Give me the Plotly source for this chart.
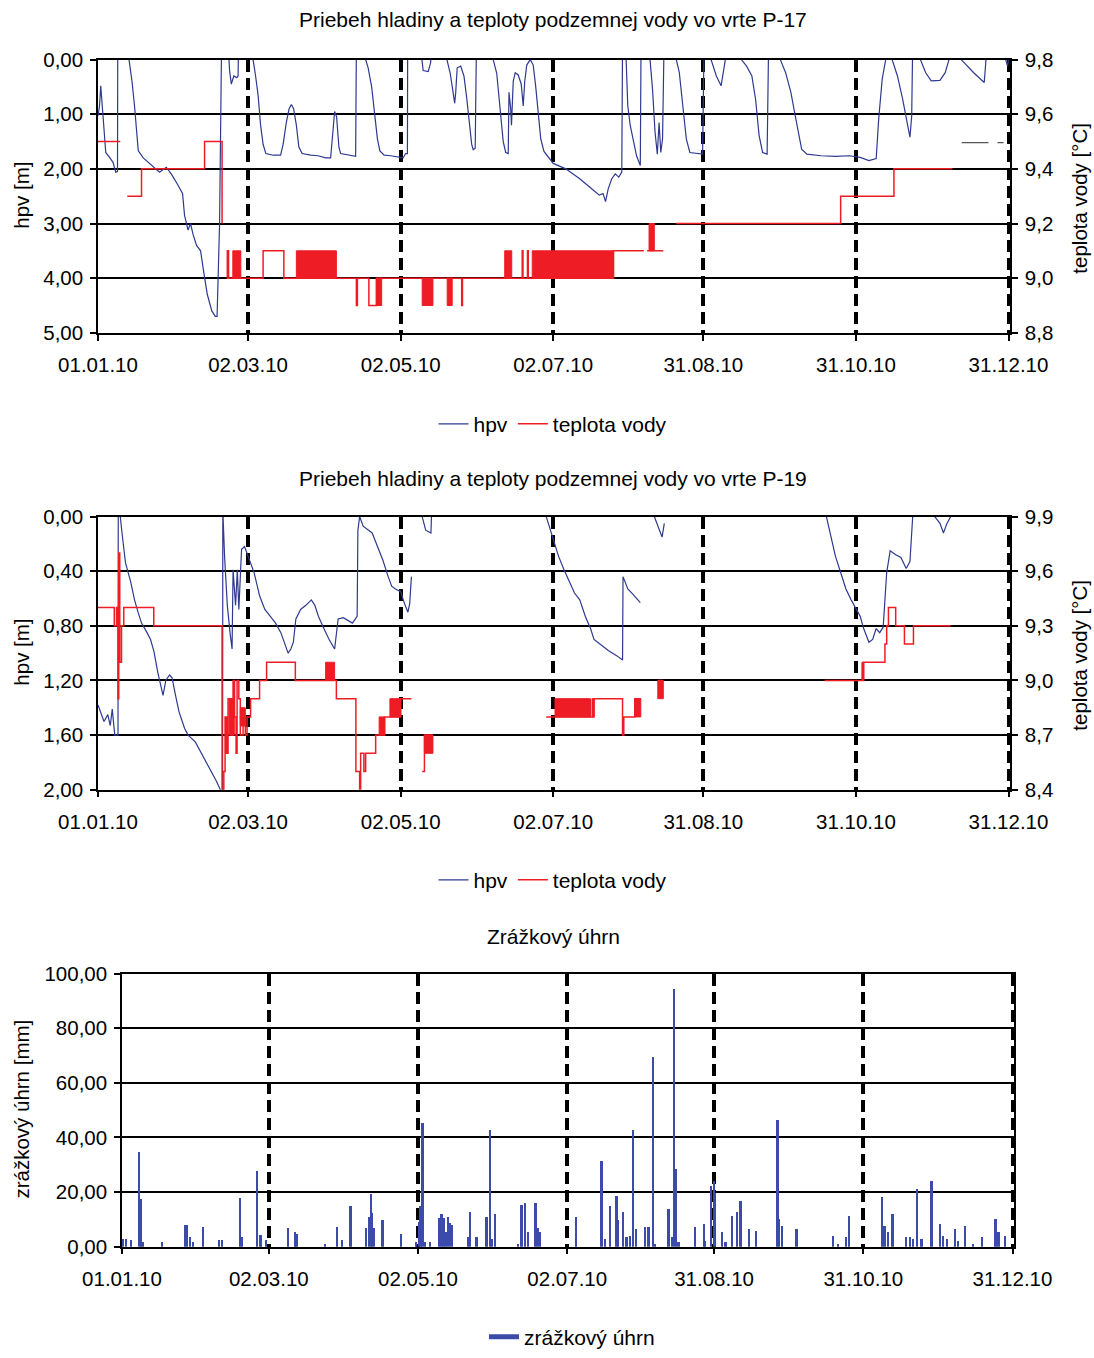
import plotly.graph_objects as go

W, H = 1094, 1358
FONT = "Liberation Sans, Arial, sans-serif"

# x axis: days since 01.01.2010
tick_days = [0, 60, 121, 182, 242, 303, 364]
tick_labels = ["01.01.10", "02.03.10", "02.05.10", "02.07.10", "31.08.10", "31.10.10", "31.12.10"]

# ---------------- P-17 ----------------
p17_hpv = [
    (0, 1.03), (0.6, 0.85), (1.1, 0.48), (1.7, 0.85), (2.4, 1.45), (3.1, 1.7), (4.6, 1.79), (6.0, 1.88), (7.1, 2.06), (7.8, 2.05), (7.9, -0.3),
    (12.2, -0.3), (12.4, 0.0), (13.6, 0.4), (14.6, 0.85), (15.4, 1.35), (16.1, 1.67), (18.1, 1.8), (21.0, 1.92), (24.6, 2.06), (27.3, 1.97),
    (29.4, 2.1), (32.0, 2.3), (33.8, 2.45), (34.6, 2.85), (36.0, 3.12), (37.0, 3.0), (38.0, 3.2), (39.4, 3.4), (41.0, 3.5), (42.3, 3.9),
    (43.7, 4.3), (45.5, 4.6), (46.9, 4.7), (47.6, 4.7), (48.0, 4.0), (48.6, 3.0), (49.4, -0.3),
    (52.0, -0.3), (52.6, 0.2), (53.3, 0.45), (54.3, 0.3), (55.5, 0.33), (56.0, 0.3), (56.2, -0.3),
    (61.8, -0.3), (62.0, 0.0), (63.0, 0.3), (64.0, 0.65), (65.0, 1.2), (66.0, 1.55), (67.1, 1.72), (70.0, 1.75), (73.0, 1.75), (74.0, 1.55),
    (75.3, 1.15), (76.4, 0.9), (77.3, 0.82), (78.2, 0.9), (79.3, 1.2), (80.3, 1.6), (81.6, 1.72), (85.0, 1.75), (88.0, 1.76), (91.0, 1.8),
    (93.0, 1.8), (94.0, 1.3), (94.6, 0.95), (95.4, 1.05), (96.3, 1.6), (97.0, 1.72), (100.0, 1.75), (103.0, 1.77), (103.3, -0.3),
    (106.8, -0.3), (107.0, 0.0), (108.0, 0.15), (109.4, 0.5), (110.6, 1.0), (111.7, 1.45), (112.7, 1.67), (114.4, 1.75), (117.0, 1.76),
    (120.0, 1.78), (122.0, 1.8), (123.0, 1.72), (123.7, 1.72), (123.8, -0.3),
    (129.3, -0.3), (129.5, 0.0), (130.0, 0.2), (132.0, 0.22), (133.0, 0.05), (133.3, -0.3),
    (139.3, -0.3), (139.5, 0.0), (140.8, 0.25), (141.8, 0.55), (142.6, 0.8), (143.0, 0.6), (143.6, 0.15), (145.0, 0.12), (146.3, 0.3),
    (147.4, 0.7), (148.4, 1.2), (149.4, 1.55), (150.0, 1.65), (150.8, 1.62), (151.2, 0.06), (151.4, -0.3),
    (157.8, -0.3), (158.0, 0.0), (159.4, 0.25), (160.7, 0.85), (162.0, 1.5), (163.0, 1.7), (164.0, 1.72), (164.3, 0.6), (165.0, 0.9),
    (165.3, 1.2), (166.0, 0.4), (166.8, 0.24), (168.0, 0.28), (169.2, 0.45), (170.0, 0.85), (170.6, 0.4), (171.4, 0.1), (172.8, 0.0),
    (174.0, 0.1), (175.0, 0.5), (176.0, 1.0), (177.0, 1.45), (178.3, 1.68), (180.0, 1.78), (182.0, 1.9),
    (187.0, 2.0), (192.6, 2.18), (198.3, 2.4), (200.4, 2.48), (201.9, 2.45), (202.9, 2.6), (204.0, 2.36), (205.4, 2.18), (206.8, 2.09),
    (208.2, 2.15), (209.4, 2.06), (209.7, -0.3),
    (210.9, -0.3), (211.1, 0.0), (211.8, 0.85), (212.8, 1.21), (213.9, 1.45), (215.3, 1.76), (216.8, 1.94), (217.1, -0.3),
    (220.5, -0.3), (220.7, 0.0), (221.7, 0.55), (222.7, 1.33), (223.6, 1.73), (224.3, 1.15), (225.0, 1.7), (225.7, 1.45), (226.3, -0.3),
    (231.0, -0.3), (231.2, 0.0), (232.4, 0.24), (233.8, 0.85), (235.2, 1.45), (236.6, 1.7), (239.4, 1.71), (241.7, 1.73), (242.3, -0.3),
    (244.9, -0.3), (245.1, 0.0), (247.2, 0.3), (249.1, 0.48), (250.1, 0.24), (250.8, 0.0), (251.2, -0.3),
    (257.0, -0.3), (257.2, 0.0), (259.3, 0.12), (261.4, 0.3), (262.9, 0.73), (264.3, 1.39), (265.7, 1.7), (267.5, 1.73), (268.1, -0.3),
    (272.6, -0.3), (272.8, 0.0), (274.9, 0.24), (277.0, 0.6), (278.5, 0.97), (279.9, 1.33), (281.3, 1.64), (283.4, 1.73), (289.1, 1.76),
    (294.8, 1.77), (300.4, 1.76), (304.7, 1.79), (308.2, 1.85), (311.1, 1.81), (312.1, 1.09), (313.5, 0.36), (314.9, 0.0), (315.5, -0.3),
    (317.3, -0.3), (317.5, 0.0), (319.6, 0.3), (321.7, 0.73), (323.4, 1.15), (324.6, 1.42), (325.3, 1.03), (325.7, -0.3),
    (328.6, -0.3), (328.8, 0.0), (330.9, 0.24), (333.1, 0.39), (336.6, 0.38), (338.7, 0.24), (340.2, 0.0), (340.5, -0.3),
    (344.9, -0.3), (345.1, 0.0), (350.1, 0.24), (354.3, 0.42), (355.5, -0.3),
    (362.7, -0.3), (362.9, 0.0), (363.6, 0.12), (364.0, 0.0),
]

# short grey dashes visible at the right edge of the P-17 panel
p17_grey = [(345.3, 1.52), (356.0, 1.52), (None, None), (359.6, 1.52), (362.0, 1.52)]

p17_temp = [
    (0, 9.5), (8.9, 9.5), (None, None),
    (11.7, 9.3), (17.4, 9.4), (42.6, 9.5), (49.6, 9.2), (None, None),
    (51.5, 9.0), (51.7, 9.1), (52.2, 9.0), (66.0, 9.1), (74.3, 9.0), (103.3, 8.9), (103.7, 9.0), (108.3, 8.9), (111.3, 9.0),
    (145.4, 8.9), (145.7, 9.0), (169.6, 9.1), (169.9, 9.0), (171.7, 9.1), (172.0, 9.0), (206.1, 9.1), (218.2, 9.1), (None, None),
    (219.5, 9.1), (226.0, 9.1), (None, None),
    (231.0, 9.2), (296.9, 9.3), (318.2, 9.4), (341.6, 9.4),
]

# dense oscillation blocks: (start day, end day, low, high)
p17_temp_blocks = [
    (53.9, 57.1, 9.0, 9.1), (79.3, 95.3, 9.0, 9.1), (111.3, 113.4, 8.9, 9.0), (129.6, 133.9, 8.9, 9.0),
    (139.6, 141.6, 8.9, 9.0), (162.6, 165.4, 9.0, 9.1), (173.6, 206.1, 9.0, 9.1), (220.3, 222.4, 9.1, 9.2),
]

# ---------------- P-19 ----------------
p19_hpv = [
    (0, 1.38), (1.0, 1.43), (2.4, 1.5), (3.9, 1.45), (4.9, 1.53), (5.7, 1.41), (6.3, 1.5), (6.7, 1.6), (8.0, 1.6), (8.1, -0.1),
    (8.7, -0.1), (8.9, 0.0), (9.6, 0.12), (11.0, 0.34), (13.1, 0.48), (14.6, 0.61), (16.0, 0.7), (17.4, 0.78), (19.6, 0.85), (21.0, 0.9),
    (22.4, 0.99), (23.9, 1.14), (26.0, 1.31), (27.1, 1.2), (28.6, 1.16), (29.6, 1.18), (31.0, 1.31), (32.4, 1.43), (34.6, 1.55),
    (36.0, 1.6), (38.9, 1.65), (41.0, 1.72), (43.1, 1.79), (45.3, 1.87), (47.4, 1.94), (48.9, 2.0), (49.8, 2.05), (49.9, -0.1),
    (50.0, 0.0), (50.6, 0.29), (51.7, 0.65), (52.9, 0.87), (53.6, 0.97), (54.0, 0.39), (54.6, 0.51), (55.0, 0.65), (55.7, 0.39),
    (56.3, 0.68), (57.4, 0.24), (58.6, 0.22), (59.6, 0.27), (61.0, 0.34), (62.4, 0.41), (64.6, 0.58), (66.7, 0.68), (68.9, 0.73),
    (71.0, 0.78), (73.1, 0.85), (74.6, 0.92), (76.0, 1.0), (77.1, 0.97), (78.1, 0.92), (79.1, 0.75), (81.0, 0.68), (83.1, 0.65),
    (85.3, 0.61), (86.7, 0.65), (88.1, 0.73), (90.3, 0.82), (92.4, 0.9), (94.6, 0.97), (96.0, 0.75), (98.1, 0.74), (100.0, 0.76),
    (101.7, 0.78), (103.6, 0.73), (103.9, 0.1), (104.6, 0.0), (106.0, 0.07), (109.6, 0.12), (111.7, 0.22), (113.9, 0.32),
    (116.0, 0.44), (117.4, 0.51), (118.9, 0.53), (121.0, 0.55), (122.4, 0.63), (123.9, 0.7), (124.6, 0.64), (125.3, 0.44), (None, None),
    (129.6, 0.0), (131.0, 0.1), (133.1, 0.12), (133.4, 0.0), (133.5, -0.1), (None, None),
    (179.2, 0.0), (182.0, 0.17), (184.1, 0.29), (186.3, 0.39), (188.4, 0.48), (190.5, 0.56), (192.6, 0.61), (194.8, 0.73),
    (196.9, 0.82), (198.3, 0.9), (200.4, 0.93), (204.0, 0.98), (207.5, 1.02), (209.7, 1.05), (209.9, 0.44), (211.8, 0.53),
    (213.9, 0.57), (216.8, 0.63), (None, None),
    (222.4, 0.0), (223.8, 0.07), (225.5, 0.15), (226.4, 0.05), (None, None),
    (291.2, 0.0), (292.6, 0.12), (294.8, 0.29), (296.9, 0.41), (299.0, 0.53), (301.1, 0.61), (303.3, 0.68), (304.7, 0.73),
    (306.1, 0.82), (308.2, 0.92), (309.7, 0.9), (311.1, 0.82), (312.5, 0.85), (313.9, 0.81), (315.3, 0.41), (316.7, 0.25),
    (318.9, 0.28), (321.0, 0.3), (323.1, 0.38), (324.6, 0.33), (325.7, 0.0), (325.8, -0.1),
    (334.3, -0.1), (334.5, 0.0), (336.6, 0.05), (338.0, 0.12), (339.4, 0.05), (340.9, 0.0),
]

p19_temp = [
    (0, 9.4), (6.5, 9.3), (7.4, 9.4), (8.0, 8.9), (8.3, 9.7), (8.7, 9.1), (9.4, 9.3), (10.3, 9.4), (22.3, 9.3), (49.6, 8.4),
    (50.3, 8.5), (50.8, 8.8), (51.4, 8.6), (52.0, 8.9), (53.2, 8.7), (54.0, 9.0), (54.6, 8.8), (55.2, 8.6), (55.6, 9.0), (56.3, 8.9),
    (56.9, 8.7), (58.0, 8.8), (58.9, 8.7), (59.6, 8.8), (61.0, 8.9), (64.6, 9.0), (67.4, 9.1), (78.9, 9.0), (95.3, 8.9), (103.1, 8.5),
    (104.6, 8.4), (105.0, 8.6), (106.3, 8.5), (107.0, 8.6), (111.0, 8.7), (114.6, 8.8), (121.0, 8.9), (125.3, 8.9), (None, None),
    (129.6, 8.5), (130.5, 8.7), (133.9, 8.7), (None, None),
    (179.2, 8.8), (198.3, 8.9), (209.7, 8.7), (210.2, 8.8), (214.6, 8.9), (217.0, 8.9), (None, None),
    (223.8, 9.0), (226.0, 9.0), (None, None),
    (290.5, 9.0), (306.1, 9.1), (314.6, 9.2), (315.3, 9.3), (316.0, 9.4), (318.9, 9.3), (322.4, 9.2), (326.0, 9.3), (340.9, 9.3),
]

p19_temp_blocks = [
    (52.4, 54.5, 8.7, 8.9), (56.9, 58.9, 8.75, 8.85), (91.0, 94.6, 9.0, 9.1), (112.4, 114.6, 8.7, 8.8), (116.7, 121.0, 8.8, 8.9),
    (130.5, 133.9, 8.6, 8.7), (182.7, 196.9, 8.8, 8.9), (197.5, 198.3, 8.8, 8.9), (214.6, 217.0, 8.8, 8.9), (223.8, 226.0, 8.9, 9.0),
    (305.4, 306.1, 9.0, 9.1),
]

# ---------------- precipitation (day, mm) ----------------
precip = [
    (0.5, 3), (1.5, 3), (3.7, 2.5), (7.0, 35), (7.7, 17.5), (8.4, 2), (16.4, 2), (25.9, 8), (26.7, 8), (27.7, 3.7), (29.0, 2),
    (33.0, 7.5), (39.6, 2.5), (41.0, 2.5), (48.3, 18), (48.9, 3.7), (55.2, 28), (56.3, 4.4), (56.9, 4.4), (58.9, 2.5),
    (67.9, 7), (70.6, 5.6), (71.3, 5), (83.0, 1.2), (87.9, 7.5), (89.9, 2.5), (93.4, 15), (99.6, 7), (101.0, 11), (101.7, 19.4),
    (102.3, 12.5), (103.0, 7), (106.5, 10), (114.1, 5), (120.3, 2),
    (121.4, 9.4), (122.0, 15), (122.8, 45.5), (123.7, 2), (125.8, 2), (129.5, 10.6), (130.6, 12), (131.4, 10.6), (132.2, 5.6),
    (133.3, 11), (134.1, 8.75), (134.9, 8), (141.5, 3.7), (142.2, 13), (144.9, 3.7), (149.0, 11), (150.3, 43), (151.3, 3),
    (152.4, 12), (161.9, 1.2), (163.3, 15.6), (164.7, 16), (166.0, 5.6), (169.0, 16), (170.1, 7), (170.9, 5.6),
    (185.7, 10.9), (196.0, 31.5), (197.3, 3), (199.4, 15), (202.1, 18.8), (202.8, 10), (204.9, 12.7), (206.2, 3.6), (207.6, 4.2),
    (209.0, 43), (210.0, 6.7), (213.8, 7.3), (215.2, 7.3), (216.9, 69.7), (217.9, 1.2), (223.4, 14), (224.7, 3.6), (225.7, 94.5),
    (226.4, 28.5), (227.5, 1.8), (234.3, 7.3), (237.8, 8.5), (238.4, 2.4), (240.9, 22.4), (241.9, 24.2), (242.5, 20), (245.3, 5.5),
    (246.7, 1.8), (249.4, 11.5), (251.5, 12.7), (252.8, 17), (256.2, 6.7), (259.0, 6), (267.9, 46.7), (268.6, 10.3), (269.9, 7.9),
    (275.7, 6.7), (290.5, 4.2), (292.5, 1.2), (296.0, 3.6), (297.3, 11.5), (310.8, 18.2), (311.7, 7.9), (313.1, 5.5), (314.9, 12),
    (320.6, 3.6), (322.0, 3.6), (323.4, 3), (325.1, 21.2), (326.8, 3), (330.9, 24.2), (334.3, 8.5), (335.7, 4.2), (337.1, 3),
    (340.5, 6.7), (341.8, 2.4), (344.6, 7.9), (348.0, 1.2), (351.5, 3.6), (357.0, 10.3), (358.3, 5.5), (361.0, 4.2),
]

titles = [
    "Priebeh hladiny a teploty podzemnej vody vo vrte P-17",
    "Priebeh hladiny a teploty podzemnej vody vo vrte P-19",
    "Zrážkový úhrn",
]

BLUE = "#2E3A8F"
RED = "#EE1C25"
BAR = "#3C4BAA"


def split(pts):
    return [p[0] for p in pts], [p[1] for p in pts]


def blocks_xy(blocks):
    xs, ys = [], []
    for s, e, lo, hi in blocks:
        xs += [s, s, e, e, s, None]
        ys += [lo, hi, hi, lo, lo, None]
    return xs, ys


fig = go.Figure()

# P-17
x, y = split(p17_hpv)
fig.add_trace(go.Scatter(x=x, y=y, mode="lines", name="hpv", line=dict(color=BLUE, width=1.2),
                         xaxis="x", yaxis="y", legend="legend"))
x, y = split(p17_grey)
fig.add_trace(go.Scatter(x=x, y=y, mode="lines", line=dict(color="#555555", width=1.3), showlegend=False,
                         xaxis="x", yaxis="y", hoverinfo="skip"))
bx, by = blocks_xy(p17_temp_blocks)
fig.add_trace(go.Scatter(x=bx, y=by, mode="lines", fill="toself", fillcolor=RED, line=dict(color=RED, width=1),
                         showlegend=False, xaxis="x", yaxis="y2", hoverinfo="skip"))
x, y = split(p17_temp)
fig.add_trace(go.Scatter(x=x, y=y, mode="lines", name="teplota vody", line=dict(color=RED, width=1.5, shape="hv"),
                         xaxis="x", yaxis="y2", legend="legend"))

# P-19
x, y = split(p19_hpv)
fig.add_trace(go.Scatter(x=x, y=y, mode="lines", name="hpv", line=dict(color=BLUE, width=1.2),
                         xaxis="x2", yaxis="y3", legend="legend2"))
bx, by = blocks_xy(p19_temp_blocks)
fig.add_trace(go.Scatter(x=bx, y=by, mode="lines", fill="toself", fillcolor=RED, line=dict(color=RED, width=1),
                         showlegend=False, xaxis="x2", yaxis="y4", hoverinfo="skip"))
x, y = split(p19_temp)
fig.add_trace(go.Scatter(x=x, y=y, mode="lines", name="teplota vody", line=dict(color=RED, width=1.5, shape="hv"),
                         xaxis="x2", yaxis="y4", legend="legend2"))

# precipitation
x, y = split(precip)
fig.add_trace(go.Bar(x=x, y=y, width=0.9, marker=dict(color=BAR, line=dict(width=0)), showlegend=False,
                     xaxis="x3", yaxis="y5"))
fig.add_trace(go.Scatter(x=[None], y=[None], mode="lines", name="zrážkový úhrn", line=dict(color=BAR, width=5),
                         xaxis="x3", yaxis="y5", legend="legend3"))


def px_x(p):
    return p / W


def px_y(p):
    return 1 - p / H


tickfont = dict(family=FONT, size=20.5, color="black")

xcommon = dict(range=[0, 364.6], tickmode="array", tickvals=tick_days, ticktext=tick_labels, ticks="outside",
               ticklen=6, tickwidth=1.5, tickcolor="black", showline=True, linecolor="black", linewidth=1.5,
               mirror=True, showgrid=True, gridcolor="black", gridwidth=3.5, griddash="12px,6px", zeroline=False,
               tickfont=tickfont, ticklabelstandoff=7, fixedrange=True, automargin=False)
ycommon = dict(ticks="outside", ticklen=6, tickwidth=1.5, tickcolor="black", showline=True, linecolor="black",
               linewidth=1.5, zeroline=False, tickfont=tickfont, fixedrange=True, automargin=False)

top_dom = [px_y(335), px_y(60)]
mid_dom = [px_y(795), px_y(520)]
bot_dom = [px_y(1255), px_y(980)]

LEGFONT = dict(family=FONT, size=21, color="black")

fig.update_layout(
    template="none",
    width=W, height=H, autosize=False, margin=dict(l=0, r=0, t=0, b=0, pad=0),
    paper_bgcolor="white", plot_bgcolor="white", separators=", ",
    font=dict(family=FONT, size=20, color="black"), bargap=0,
    xaxis=dict(domain=[px_x(98), px_x(1010)], anchor="y", **xcommon),
    yaxis=dict(domain=top_dom, anchor="x", range=[5, 0], dtick=1, tick0=0, tickformat=".2f", mirror=True,
               showgrid=True, gridcolor="black", gridwidth=1.5, ticklabelstandoff=3, **ycommon),
    yaxis2=dict(overlaying="y", side="right", anchor="x", range=[8.8, 9.8], dtick=0.2, tick0=8.8, tickformat=".1f",
                showgrid=False, ticklabelstandoff=3, **ycommon),
    xaxis2=dict(domain=[px_x(98), px_x(1010)], anchor="y3", **xcommon),
    yaxis3=dict(domain=mid_dom, anchor="x2", range=[2, 0], dtick=0.4, tick0=0, tickformat=".2f", mirror=True,
                showgrid=True, gridcolor="black", gridwidth=1.5, ticklabelstandoff=3, **ycommon),
    yaxis4=dict(overlaying="y3", side="right", anchor="x2", range=[8.4, 9.9], dtick=0.3, tick0=8.4, tickformat=".1f",
                showgrid=False, ticklabelstandoff=3, **ycommon),
    xaxis3=dict(domain=[px_x(122), px_x(1014)], anchor="y5", **xcommon),
    yaxis5=dict(domain=bot_dom, anchor="x3", range=[0, 100], dtick=20, tick0=0, tickformat=".2f", mirror=True,
                showgrid=True, gridcolor="black", gridwidth=1.5, ticklabelstandoff=3, **ycommon),
    legend=dict(orientation="h", x=px_x(553), xanchor="center", y=px_y(427), yanchor="middle",
                font=LEGFONT, bgcolor="rgba(0,0,0,0)"),
    legend2=dict(orientation="h", x=px_x(553), xanchor="center", y=px_y(886), yanchor="middle",
                 font=LEGFONT, bgcolor="rgba(0,0,0,0)"),
    legend3=dict(orientation="h", x=px_x(572), xanchor="center", y=px_y(1346), yanchor="middle",
                 font=LEGFONT, bgcolor="rgba(0,0,0,0)"),
)

ann = []
for t, yp, xp in zip(titles, [20, 482, 943], [553, 553, 553]):
    ann.append(dict(text=t, x=px_x(xp), y=px_y(yp), xref="paper", yref="paper", showarrow=False,
                    xanchor="center", yanchor="middle", font=dict(family=FONT, size=21, color="black")))
for t, xp, yp in [("hpv [m]", 22, 197), ("teplota vody [°C]", 1080, 200), ("hpv [m]", 22, 657),
                  ("teplota vody [°C]", 1080, 660), ("zrážkový úhrn [mm]", 22, 1117)]:
    ann.append(dict(text=t, x=px_x(xp), y=px_y(yp), xref="paper", yref="paper", showarrow=False, textangle=-90,
                    xanchor="center", yanchor="middle", font=dict(family=FONT, size=20.5, color="black")))
fig.update_layout(annotations=ann)

fig.write_html(
    "out.html",
    config={"displayModeBar": False, "staticPlot": False},
    post_script=(
        "document.body.style.margin='0px';document.body.style.padding='0px';"
        "document.documentElement.style.overflow='hidden';document.body.style.overflow='hidden';"
    ),
)
